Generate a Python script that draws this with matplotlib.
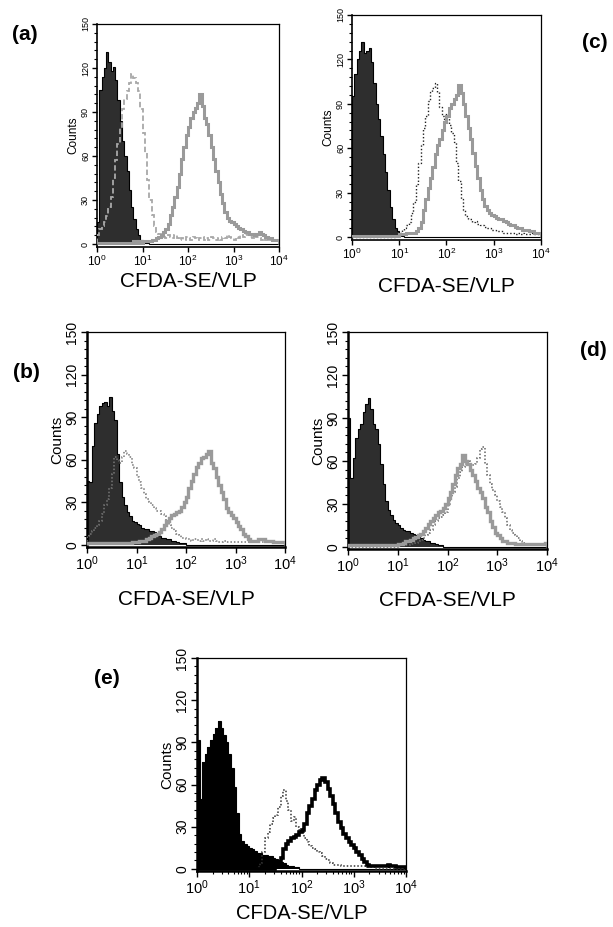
import numpy as np
import matplotlib
matplotlib.use("Agg")
import matplotlib.pyplot as plt
from matplotlib.ticker import MultipleLocator, FixedLocator, LogLocator, NullFormatter

plt.rcParams['font.family'] = ['Liberation Sans', 'DejaVu Sans']
plt.rcParams['mathtext.fontset'] = 'custom'
plt.rcParams['mathtext.rm'] = 'Liberation Sans'
plt.rcParams['mathtext.it'] = 'Liberation Sans:italic'
plt.rcParams['mathtext.bf'] = 'Liberation Sans:bold'

# ---------------- data ----------------
# histogram channels: 80 bins, 0.05 decade wide, from 10^0 to 10^4
log_bin_width = 0.05
n_bins = 80

x_tick_values = [1, 10, 100, 1000, 10000]
x_tick_labels = ['$10^{0}$', '$10^{1}$', '$10^{2}$', '$10^{3}$', '$10^{4}$']
y_tick_values = [0, 30, 60, 90, 120, 150]
x_label = 'CFDA-SE/VLP'
y_label = 'Counts'
panel_labels = ['(a)', '(b)', '(c)', '(d)', '(e)']

a_control = [15, 105, 114, 120, 131, 124, 118, 121, 112, 98,
             84, 70, 60, 50, 37, 25, 17, 10, 6, 3,
             2, 1, 1, 0, 0, 0, 0, 0, 0, 0,
             0, 0, 0, 0, 0, 0, 0, 0, 0, 0,
             0, 0, 0, 0, 0, 0, 0, 0, 0, 0,
             0, 0, 0, 0, 0, 0, 0, 0, 0, 0,
             0, 0, 0, 0, 0, 0, 0, 0, 0, 0,
             0, 0, 0, 0, 0, 0, 0, 0, 0, 0]
a_dashed = [6, 10, 12, 15, 19, 25, 32, 45, 57, 68,
            79, 92, 99, 104, 110, 116, 113, 110, 104, 92,
            76, 62, 44, 30, 20, 12, 8, 7, 5, 5,
            4, 6, 5, 4, 6, 4, 3, 4, 3, 5,
            4, 3, 5, 4, 3, 4, 5, 3, 4, 3,
            5, 4, 3, 4, 3, 5, 4, 6, 5, 4,
            3, 5, 4, 6, 5, 7, 6, 5, 4, 6,
            5, 4, 3, 4, 3, 4, 3, 3, 2, 3]
a_solid = [1, 1, 1, 1, 1, 1, 1, 1, 1, 1,
           1, 1, 1, 1, 1, 1, 2, 1, 2, 1,
           2, 2, 2, 2, 3, 3, 4, 5, 6, 8,
           10, 14, 20, 25, 32, 39, 48, 58, 66, 74,
           80, 86, 90, 93, 96, 102, 94, 86, 82, 74,
           66, 58, 50, 42, 34, 28, 22, 18, 16, 15,
           14, 12, 11, 10, 9, 8, 8, 7, 7, 6,
           7, 8, 7, 6, 5, 4, 4, 3, 3, 3]

b_control = [45, 44, 70, 86, 92, 98, 100, 101, 98, 104,
             94, 88, 64, 44, 34, 28, 23, 20, 17, 16,
             15, 14, 12, 11, 11, 10, 10, 9, 8, 6,
             5, 5, 4, 4, 3, 3, 2, 1, 1, 1,
             0, 0, 0, 0, 0, 0, 0, 0, 0, 0,
             0, 0, 0, 0, 0, 0, 0, 0, 0, 0,
             0, 0, 0, 0, 0, 0, 0, 0, 0, 0,
             0, 0, 0, 0, 0, 0, 0, 0, 0, 0]
b_dotted = [6, 8, 10, 12, 14, 17, 22, 28, 32, 40,
            50, 62, 60, 58, 62, 66, 64, 62, 56, 54,
            48, 44, 40, 36, 32, 30, 28, 26, 24, 24,
            22, 20, 17, 14, 12, 10, 8, 7, 5, 5,
            4, 4, 3, 4, 4, 3, 4, 3, 4, 3,
            3, 4, 3, 2, 2, 3, 2, 2, 2, 2,
            2, 2, 2, 2, 2, 2, 2, 2, 2, 2,
            2, 2, 2, 2, 2, 2, 2, 2, 2, 2]
b_solid = [1, 1, 1, 1, 1, 1, 1, 1, 1, 1,
           1, 1, 1, 1, 1, 1, 1, 1, 2, 2,
           2, 3, 3, 3, 4, 5, 6, 7, 8, 9,
           11, 14, 17, 19, 21, 22, 23, 24, 27, 30,
           34, 40, 45, 50, 55, 58, 61, 62, 64, 66,
           58, 54, 48, 42, 37, 32, 26, 23, 21, 19,
           16, 13, 11, 8, 6, 4, 3, 3, 3, 4,
           4, 4, 3, 3, 3, 2, 2, 2, 2, 2]

c_control = [95, 110, 120, 126, 132, 124, 126, 128, 118, 104,
             90, 80, 68, 56, 44, 32, 20, 12, 6, 4,
             2, 1, 0, 0, 0, 0, 0, 0, 0, 0,
             0, 0, 0, 0, 0, 0, 0, 0, 0, 0,
             0, 0, 0, 0, 0, 0, 0, 0, 0, 0,
             0, 0, 0, 0, 0, 0, 0, 0, 0, 0,
             0, 0, 0, 0, 0, 0, 0, 0, 0, 0,
             0, 0, 0, 0, 0, 0, 0, 0, 0, 0]
c_dotted = [0, 0, 0, 0, 0, 0, 0, 0, 0, 0,
            0, 0, 0, 0, 0, 0, 0, 0, 1, 2,
            3, 5, 6, 8, 10, 16, 24, 36, 50, 62,
            74, 82, 92, 98, 101, 104, 98, 88, 82, 80,
            84, 76, 70, 64, 50, 38, 26, 18, 14, 12,
            12, 10, 11, 9, 8, 8, 7, 6, 6, 5,
            5, 4, 4, 4, 3, 3, 3, 3, 3, 2,
            3, 2, 3, 2, 2, 2, 3, 2, 2, 2]
c_solid = [1, 1, 1, 1, 1, 1, 1, 1, 1, 1,
           1, 1, 1, 1, 1, 1, 1, 1, 1, 1,
           2, 2, 2, 3, 3, 3, 3, 4, 6, 10,
           18, 26, 33, 40, 47, 56, 62, 66, 72, 78,
           82, 87, 90, 93, 96, 103, 97, 90, 82, 74,
           66, 57, 48, 40, 32, 26, 21, 18, 16, 15,
           14, 13, 12, 12, 11, 10, 9, 8, 8, 7,
           6, 6, 5, 5, 5, 4, 4, 3, 3, 3]

d_control = [90, 48, 62, 76, 82, 86, 94, 100, 104, 96,
             86, 82, 72, 58, 44, 32, 26, 22, 19, 17,
             15, 13, 12, 11, 11, 10, 9, 8, 7, 6,
             5, 4, 4, 3, 3, 2, 1, 1, 0, 0,
             0, 0, 0, 0, 0, 0, 0, 0, 0, 0,
             0, 0, 0, 0, 0, 0, 0, 0, 0, 0,
             0, 0, 0, 0, 0, 0, 0, 0, 0, 0,
             0, 0, 0, 0, 0, 0, 0, 0, 0, 0]
d_solid = [1, 1, 1, 1, 1, 1, 1, 1, 1, 1,
           1, 1, 1, 1, 1, 1, 1, 1, 1, 1,
           2, 2, 3, 4, 4, 5, 6, 7, 8, 9,
           11, 13, 16, 18, 20, 22, 24, 25, 27, 30,
           34, 38, 44, 50, 55, 58, 64, 60, 58, 54,
           50, 46, 41, 38, 34, 28, 24, 18, 14, 10,
           8, 6, 4, 4, 3, 3, 3, 2, 2, 2,
           2, 2, 2, 2, 2, 2, 2, 2, 2, 3]
d_dotted = [0, 0, 0, 0, 0, 0, 0, 0, 0, 0,
            0, 0, 0, 0, 0, 0, 0, 0, 0, 0,
            1, 1, 1, 1, 1, 2, 2, 3, 4, 5,
            6, 8, 10, 12, 15, 18, 20, 21, 22, 24,
            30, 34, 38, 42, 48, 52, 56, 58, 60, 58,
            57, 58, 62, 68, 70, 58, 50, 44, 40, 36,
            32, 28, 24, 20, 15, 12, 10, 8, 6, 4,
            3, 3, 2, 2, 2, 2, 2, 2, 2, 2]

e_control = [92, 50, 76, 82, 87, 92, 96, 100, 105, 100,
             95, 90, 82, 72, 58, 40, 25, 20, 18, 16,
             15, 14, 13, 11, 11, 10, 10, 9, 9, 8,
             7, 6, 5, 4, 3, 2, 2, 1, 1, 0,
             0, 0, 0, 0, 0, 0, 0, 0, 0, 0,
             0, 0, 0, 0, 0, 0, 0, 0, 0, 0,
             0, 0, 0, 0, 0, 0, 0, 0, 0, 0,
             0, 0, 0, 0, 0, 0, 0, 0, 0, 0]
e_solid = [0, 0, 0, 0, 0, 0, 0, 0, 0, 0,
           0, 0, 0, 0, 0, 0, 0, 0, 0, 0,
           0, 0, 0, 0, 0, 0, 0, 0, 0, 0,
           1, 3, 8, 14, 18, 20, 22, 23, 24, 26,
           28, 32, 40, 45, 50, 56, 60, 63, 65, 62,
           57, 52, 46, 40, 33, 29, 25, 22, 19, 17,
           15, 12, 10, 7, 5, 3, 2, 2, 2, 2,
           2, 2, 2, 3, 2, 2, 1, 1, 1, 1]
e_dotted = [0, 0, 0, 0, 0, 0, 0, 0, 0, 0,
            0, 0, 0, 0, 0, 0, 0, 0, 0, 0,
            0, 0, 0, 1, 4, 12, 22, 26, 32, 36,
            38, 44, 52, 56, 48, 42, 34, 37, 30, 28,
            26, 22, 19, 16, 15, 14, 12, 11, 9, 7,
            6, 4, 3, 3, 3, 2, 2, 2, 2, 2,
            2, 2, 2, 2, 2, 1, 1, 1, 0, 0,
            0, 0, 0, 0, 0, 0, 0, 0, 0, 0]

# ---------------- layout / styles ----------------
W, H = 613, 927
fig = plt.figure(figsize=(W / 100, H / 100), dpi=100)


def rect(l, r, t, b):
    return [l / W, 1 - b / H, (r - l) / W, (b - t) / H]


edges = 10 ** (np.arange(n_bins + 1) * log_bin_width)

panels = {
    'a': dict(rect=rect(97, 279, 24, 247), ymin=-2, small=True, xpad=2,
              control=a_control, cfill='#2e2e2e',
              solid=a_solid, scol='#9a9a9a', slw=2.2,
              other=a_dashed, ocol='#a8a8a8', ols=(0, (3, 1.6)), olw=1.3,
              label='(a)', lpos=(25, 35)),
    'c': dict(rect=rect(352, 541, 15, 240), ymin=-2, small=True, xpad=11,
              control=c_control, cfill='#2e2e2e',
              solid=c_solid, scol='#9a9a9a', slw=2.2,
              other=c_dotted, ocol='#222222', ols=(0, (1, 1.5)), olw=1.0,
              label='(c)', lpos=(595, 43)),
    'b': dict(rect=rect(87, 285, 332, 547), ymin=-1.5, small=False, xpad=12,
              control=b_control, cfill='#2e2e2e',
              solid=b_solid, scol='#9a9a9a', slw=2.4,
              other=b_dotted, ocol='#777777', ols=(0, (1, 1.3)), olw=1.1,
              label='(b)', lpos=(26, 372)),
    'd': dict(rect=rect(348, 547, 332, 549), ymin=-1.5, small=False, xpad=11,
              control=d_control, cfill='#2e2e2e',
              solid=d_solid, scol='#9a9a9a', slw=2.4,
              other=d_dotted, ocol='#666666', ols=(0, (1, 1.3)), olw=1.1,
              label='(d)', lpos=(593, 350)),
    'e': dict(rect=rect(197, 406, 658, 871), ymin=-1.5, small=False, xpad=5,
              control=e_control, cfill='#000000',
              solid=e_solid, scol='#000000', slw=2.6,
              other=e_dotted, ocol='#333333', ols=(0, (1, 1.3)), olw=1.1,
              label='(e)', lpos=(107, 678)),
}

for key, p in panels.items():
    ax = fig.add_axes(p['rect'])
    ax.set_xscale('log')
    ax.set_xlim(edges[0], edges[-1])
    ax.set_ylim(p['ymin'], 150)

    ax.stairs(p['control'], edges, fill=True, color=p['cfill'], zorder=2)
    ax.stairs(p['control'], edges, color='black', lw=0.8, zorder=2.1)
    ax.stairs(p['other'], edges, color=p['ocol'], lw=p['olw'],
              linestyle=p['ols'], zorder=3)
    ax.stairs(p['solid'], edges, color=p['scol'], lw=p['slw'], zorder=4)

    small = p['small']
    xt_fs = 8.5 if small else 10.5
    yt_fs = 6.5 if small else 10
    yl_fs = 8.5 if small else 11

    ax.xaxis.set_major_locator(FixedLocator(x_tick_values))
    ax.set_xticklabels(x_tick_labels, fontsize=xt_fs)
    ax.xaxis.set_minor_locator(LogLocator(base=10, subs=np.arange(2, 10)))
    ax.xaxis.set_minor_formatter(NullFormatter())
    ax.yaxis.set_major_locator(FixedLocator(y_tick_values))
    ax.yaxis.set_minor_locator(MultipleLocator(6))
    ax.set_yticklabels([str(v) for v in y_tick_values], fontsize=yt_fs,
                       rotation=90, va='center')

    ax.tick_params(axis='both', which='major', direction='out',
                   length=3.5 if small else 4, width=1.0, pad=1.5)
    ax.tick_params(axis='both', which='minor', direction='out',
                   length=2 if small else 2.5, width=0.8)

    for s in ['top', 'right']:
        ax.spines[s].set_linewidth(0.9)
    for s in ['left', 'bottom']:
        ax.spines[s].set_linewidth(1.2 if small else 1.8)

    ax.set_xlabel(x_label, fontsize=15 if key != 'e' else 14.5,
                  labelpad=p['xpad'])
    ax.set_ylabel(y_label, fontsize=yl_fs, labelpad=1)

    fig.text(p['lpos'][0] / W, 1 - p['lpos'][1] / H, p['label'],
             fontsize=15, fontweight='bold', ha='center', va='center')

fig.savefig('out.png', dpi=100)
